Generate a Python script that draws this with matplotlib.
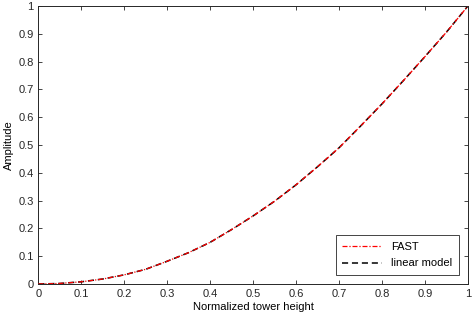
import matplotlib
matplotlib.use("Agg")
import matplotlib.pyplot as plt

plt.rcParams["font.family"] = ["Liberation Sans", "DejaVu Sans"]
plt.rcParams["font.size"] = 8

# Tower mode shape: normalized height vs amplitude
height = [0.0, 0.05, 0.1, 0.15, 0.2, 0.25, 0.3, 0.35, 0.4, 0.45, 0.5,
          0.55, 0.6, 0.65, 0.7, 0.75, 0.8, 0.85, 0.9, 0.95, 1.0]
amp_fast = [0.0, 0.002, 0.008, 0.018, 0.033, 0.053, 0.082, 0.113, 0.150, 0.196, 0.245,
            0.298, 0.357, 0.422, 0.490, 0.568, 0.648, 0.732, 0.818, 0.906, 1.0]
amp_linear = list(amp_fast)

xticks = [0, 0.1, 0.2, 0.3, 0.4, 0.5, 0.6, 0.7, 0.8, 0.9, 1]
yticks = [0, 0.1, 0.2, 0.3, 0.4, 0.5, 0.6, 0.7, 0.8, 0.9, 1]

fig = plt.figure(figsize=(4.74, 3.22), dpi=100)
ax = fig.add_axes([0.081, 0.118, 0.906, 0.863])

ax.plot(height, amp_linear, color="black", linestyle=(0, (4, 2.5)), linewidth=1.1,
        label="linear model", zorder=2)
ax.plot(height, amp_fast, color="red", linestyle=(0, (4, 1.5, 1, 1.5)), linewidth=0.9,
        label="FAST", zorder=3)

ax.set_xlim(0, 1)
ax.set_ylim(0, 1)
ax.set_xticks(xticks)
ax.set_yticks(yticks)
ax.set_xticklabels([f"{v:g}" for v in xticks])
ax.set_yticklabels([f"{v:g}" for v in yticks])
ax.tick_params(direction="in", top=True, right=True, length=3, width=0.6, colors="#262626")
for s in ax.spines.values():
    s.set_linewidth(0.7)
    s.set_color("#262626")

ax.set_xlabel("Normalized tower height", labelpad=2)
ax.set_ylabel("Amplitude", labelpad=3)

handles, labels = ax.get_legend_handles_labels()
leg = ax.legend(handles[::-1], labels[::-1], loc="lower right", fancybox=False,
                edgecolor="#262626", framealpha=1, handlelength=3.6,
                borderaxespad=0.8, borderpad=0.6, labelspacing=0.6, fontsize=8)
leg.get_frame().set_linewidth(0.6)

fig.savefig("out.png", dpi=100)
